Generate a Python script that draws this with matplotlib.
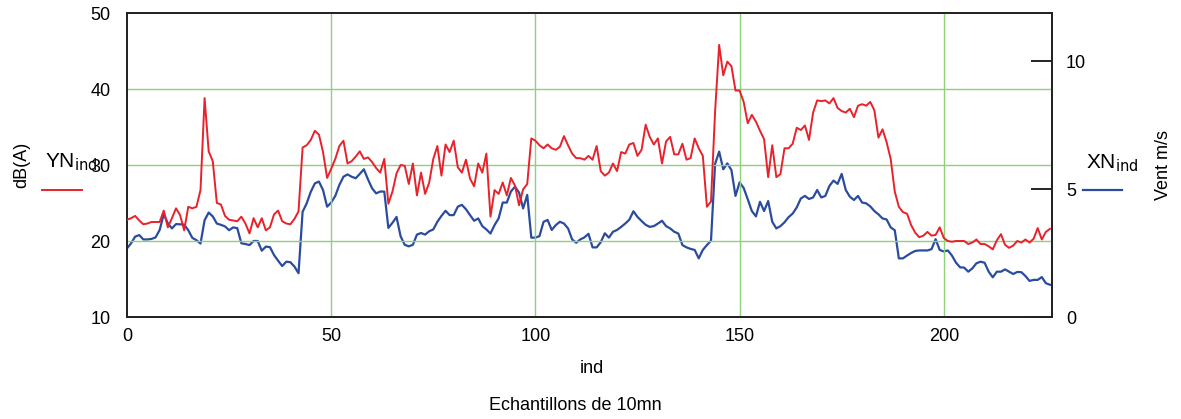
import matplotlib
matplotlib.use("Agg")
import matplotlib.pyplot as plt
import numpy as np

plt.rcParams['font.family'] = ['Liberation Sans', 'DejaVu Sans']

# YN_ind : niveau sonore dB(A)
yn = [22.8, 23.0, 23.3, 22.7, 22.2, 22.3, 22.5, 22.5, 22.5, 24.0,
      21.8, 23.0, 24.3, 23.4, 21.4, 24.5, 24.3, 24.5, 26.7, 38.8,
      31.8, 30.5, 25.0, 24.8, 23.3, 22.8, 22.7, 22.6, 23.2, 22.3,
      21.0, 23.0, 21.8, 23.0, 21.4, 21.8, 23.5, 24.0, 22.6, 22.3,
      22.2, 22.9, 23.9, 32.3, 32.6, 33.3, 34.5, 34.0, 31.7, 28.3,
      29.5, 30.8, 32.5, 33.2, 30.2, 30.5, 31.1, 31.8, 30.8, 31.0,
      30.4, 29.6, 29.0, 30.8, 24.9, 26.5, 28.9, 30.0, 29.9, 27.5,
      30.2, 26.0, 29.0, 26.2, 27.7, 30.8, 32.5, 28.6, 32.7, 31.7,
      33.2, 29.7, 29.0, 30.7, 28.2, 27.2, 30.2, 29.0, 31.5, 23.2,
      26.7, 26.2, 27.7, 26.0, 28.3, 27.3, 24.7, 26.8, 27.5, 33.5,
      33.2, 32.6, 32.2, 32.7, 32.2, 32.0, 32.4, 33.8, 32.6, 31.5,
      30.9, 30.9, 30.7, 31.2, 30.7, 32.5, 29.2, 28.6, 29.0, 30.2,
      29.2, 31.7, 31.5, 32.7, 32.9, 31.2, 32.0, 35.3, 33.7, 32.7,
      33.5, 30.2, 33.1, 33.7, 31.4, 31.4, 32.8, 30.7, 30.9, 33.5,
      32.2, 31.2, 24.5, 25.2, 37.0, 45.8, 41.8, 43.6, 43.0, 39.8,
      39.8, 38.3, 35.5, 36.6, 35.7, 34.5, 33.4, 28.4, 32.6, 28.4,
      28.8, 32.2, 32.2, 32.8, 34.9, 34.6, 35.2, 33.3, 36.9, 38.5,
      38.4, 38.5, 38.1, 38.8, 37.5, 37.1, 36.9, 37.4, 36.3, 37.8,
      38.0, 37.8, 38.3, 37.2, 33.6, 34.7, 33.0, 30.8, 26.5, 24.5,
      23.8, 23.6, 22.1, 21.1, 20.5, 20.7, 21.2, 20.7, 20.8, 21.8,
      20.4, 20.0, 19.9, 20.0, 20.0, 20.0, 19.6, 19.8, 20.2, 19.6,
      19.6, 19.3, 18.9, 20.1, 20.9, 19.5, 19.1, 19.4, 20.0, 19.8,
      20.2, 19.8, 20.3, 21.7, 20.2, 21.2, 21.6]

# XN_ind : vent m/s
xn = [2.68, 2.88, 3.14, 3.20, 3.03, 3.03, 3.05, 3.11, 3.40, 4.02,
      3.66, 3.46, 3.63, 3.62, 3.61, 3.39, 3.09, 3.00, 2.87, 3.78,
      4.08, 3.93, 3.65, 3.60, 3.54, 3.39, 3.50, 3.47, 2.88, 2.85,
      2.81, 2.97, 2.97, 2.59, 2.75, 2.73, 2.42, 2.20, 1.99, 2.16,
      2.14, 1.97, 1.71, 4.11, 4.44, 4.89, 5.22, 5.29, 4.96, 4.31,
      4.47, 4.73, 5.16, 5.48, 5.57, 5.48, 5.42, 5.59, 5.77, 5.38,
      5.03, 4.83, 4.90, 4.90, 3.48, 3.68, 3.91, 3.15, 2.82, 2.76,
      2.82, 3.22, 3.28, 3.22, 3.35, 3.42, 3.72, 3.95, 4.15, 3.98,
      3.98, 4.31, 4.38, 4.21, 3.98, 3.76, 3.85, 3.55, 3.42, 3.26,
      3.59, 3.85, 4.47, 4.47, 4.90, 5.09, 4.86, 4.24, 4.77, 3.10,
      3.10, 3.16, 3.72, 3.79, 3.40, 3.59, 3.72, 3.65, 3.46, 3.03,
      2.90, 3.03, 3.11, 3.25, 2.72, 2.72, 2.92, 3.27, 3.10, 3.33,
      3.40, 3.52, 3.65, 3.80, 4.13, 3.91, 3.75, 3.60, 3.52, 3.55,
      3.65, 3.76, 3.55, 3.46, 3.33, 3.26, 2.81, 2.72, 2.66, 2.62,
      2.29, 2.62, 2.81, 2.98, 5.98, 6.46, 5.77, 6.00, 5.74, 4.73,
      5.26, 5.04, 4.60, 4.14, 3.93, 4.50, 4.14, 4.53, 3.72, 3.46,
      3.55, 3.70, 3.90, 4.04, 4.28, 4.63, 4.73, 4.61, 4.67, 4.96,
      4.67, 4.73, 5.12, 5.33, 5.20, 5.59, 4.96, 4.70, 4.57, 4.73,
      4.47, 4.44, 4.32, 4.14, 4.01, 3.85, 3.81, 3.50, 3.39, 2.29,
      2.29, 2.40, 2.50, 2.58, 2.60, 2.60, 2.60, 2.65, 3.04, 2.62,
      2.56, 2.60, 2.40, 2.12, 1.94, 1.93, 1.77, 1.90, 2.10, 2.16,
      2.12, 1.77, 1.55, 1.77, 1.77, 1.86, 1.77, 1.68, 1.76, 1.75,
      1.60, 1.41, 1.45, 1.45, 1.56, 1.32, 1.26]

ind = np.arange(len(yn))

red = '#e8212b'
blue = '#2b4c9e'
green = '#8fd07a'

fig = plt.figure(figsize=(11.81, 4.19), dpi=100)
ax = fig.add_axes([127/1181, 1-317/419, (1052-127)/1181, (317-13)/419])
ax2 = ax.twinx()

ax.plot(ind, yn, color=red, lw=1.4, zorder=3)
ax2.plot(ind, xn, color=blue, lw=1.6, zorder=3)

ax.set_xlim(0, len(yn) - 0.5)
ax.set_ylim(10, 50)
ax2.set_ylim(0, 11.875)

ax.set_xticks([0, 50, 100, 150, 200])
ax.set_yticks([10, 20, 30, 40, 50])
ax2.set_yticks([0, 5, 10])

for v in [50, 100, 150, 200]:
    ax.axvline(v, color=green, lw=1, zorder=1)
for v in [20, 30, 40]:
    ax.axhline(v, color=green, lw=1, zorder=1)

ax.tick_params(axis='both', length=0, labelsize=13, pad=8)
ax.tick_params(axis='y', pad=12)
ax2.tick_params(axis='y', direction='in', length=15, width=1.2, labelsize=13, pad=10)

for a in (ax, ax2):
    for s in a.spines.values():
        s.set_linewidth(1.3)
        s.set_color('#222222')

ax.set_zorder(ax2.get_zorder() + 1)
ax.patch.set_visible(False)

fig.text(592/1181, 1-368/419, 'ind', ha='center', va='center', fontsize=13)
fig.text(575/1181, 1-405/419, 'Echantillons de 10mn', ha='center', va='center', fontsize=13)
fig.text(22/1181, 1-165/419, 'dB(A)', rotation=90, ha='center', va='center', fontsize=13)
fig.text(1163/1181, 1-165/419, 'Vent m/s', rotation=90, ha='center', va='center', fontsize=13)

fig.text(45/1181, 1-162/419, r'YN$_{\mathrm{ind}}$', ha='left', va='center', fontsize=15)
fig.add_artist(plt.Line2D([42/1181, 82/1181], [1-190/419, 1-190/419], color=red, lw=1.4))
fig.text(1086/1181, 1-163/419, r'XN$_{\mathrm{ind}}$', ha='left', va='center', fontsize=15)
fig.add_artist(plt.Line2D([1083/1181, 1122/1181], [1-190/419, 1-190/419], color=blue, lw=1.6))

fig.savefig('out.png', dpi=100)
